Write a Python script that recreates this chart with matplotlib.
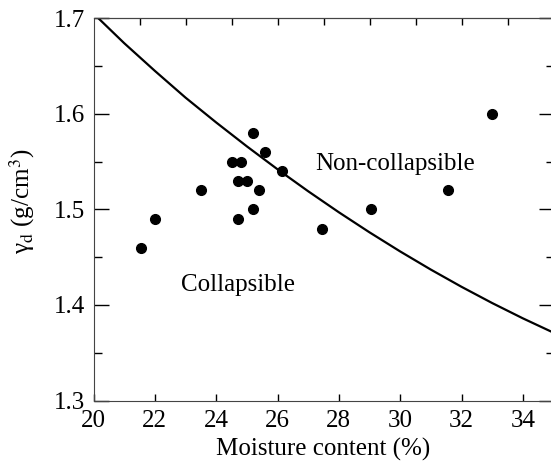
import numpy as np
import matplotlib
matplotlib.use('Agg')
import matplotlib.pyplot as plt
from matplotlib.ticker import MultipleLocator, FormatStrFormatter

plt.rcParams['font.family'] = ['Liberation Serif', 'DejaVu Serif']
plt.rcParams['mathtext.fontset'] = 'stix'

# measured samples
moisture = [21.55, 22.0, 23.5, 24.5, 24.8, 24.7, 25.0, 24.7, 25.2, 25.2,
            25.4, 25.6, 26.15, 27.45, 29.05, 31.55, 33.0]
density = [1.46, 1.49, 1.52, 1.55, 1.55, 1.53, 1.53, 1.49, 1.58, 1.50,
           1.52, 1.56, 1.54, 1.48, 1.50, 1.52, 1.60]

# boundary curve
curve_w = [20, 21, 22, 23, 24, 25, 26, 27, 28, 29, 30, 31, 32, 33, 34, 35]
curve_d = [1.705, 1.674, 1.645, 1.617, 1.591, 1.566, 1.542, 1.519, 1.497,
           1.476, 1.456, 1.437, 1.419, 1.402, 1.386, 1.371]

top_ticks = [21.5, 23, 24.5, 26, 27.5, 29, 30.5, 32, 33.5]

fig = plt.figure(figsize=(5.51, 4.61), dpi=100)
ax = fig.add_axes([93.5 / 551, 60.5 / 461, 460 / 551, 382.2 / 461])

ax.plot(curve_w, curve_d, color='black', lw=1.6)
ax.plot(moisture, density, 'o', color='black', markersize=7)

ax.set_xlim(20, 35)
ax.set_ylim(1.3, 1.7)
ax.set_xticks(np.arange(20, 35, 2))
ax.set_yticks([1.3, 1.4, 1.5, 1.6, 1.7])
ax.yaxis.set_minor_locator(MultipleLocator(0.05))
ax.yaxis.set_major_formatter(FormatStrFormatter('%.1f'))

ax.tick_params(axis='x', direction='in', length=5, width=1, pad=7, labelsize=18)
ax.tick_params(axis='y', which='major', direction='in', length=11, width=1,
               right=True, pad=6, labelsize=18)
ax.tick_params(axis='y', which='minor', direction='in', length=5.5, width=1, right=True)
for s in ax.spines.values():
    s.set_linewidth(0.8)
    s.set_color('#444444')

secax = ax.secondary_xaxis('top')
secax.set_xticks(top_ticks)
secax.tick_params(direction='in', length=5, width=1, labeltop=False)
secax.spines['top'].set_linewidth(0.8)
secax.spines['top'].set_color('#444444')

ax.text(29.85, 1.547, 'Non-collapsible', fontsize=18, ha='center', va='center')
ax.text(24.72, 1.421, 'Collapsible', fontsize=18, ha='center', va='center')

ax.set_xlabel('Moisture content (%)', fontsize=18)
ax.set_ylabel('γ$_{\\mathrm{d}}$ (g/cm$^3$)', fontsize=18)
ax.xaxis.set_label_coords(0.5, -0.098)
ax.yaxis.set_label_coords(-0.123, 0.522)

fig.savefig('out.png', dpi=100)
